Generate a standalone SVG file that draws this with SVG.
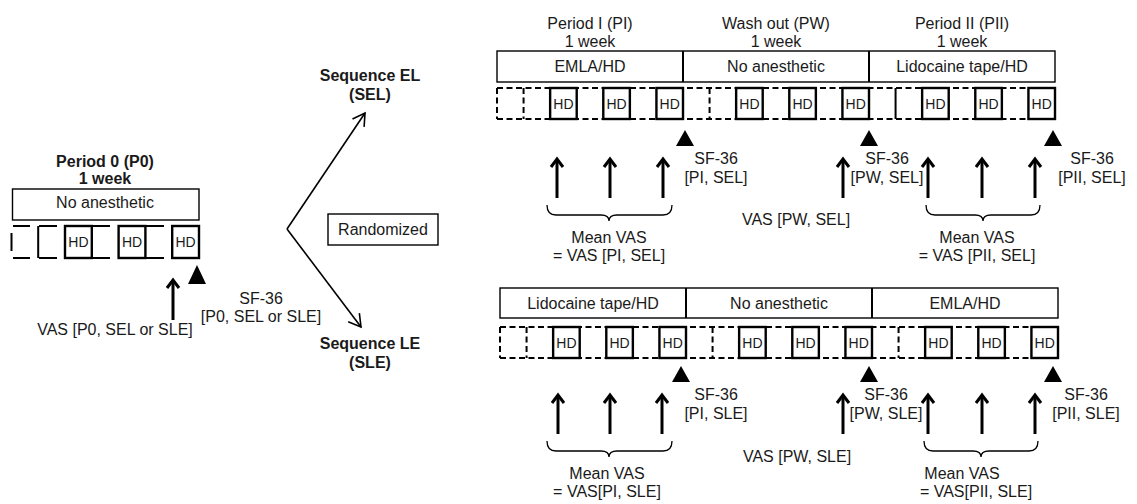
<svg xmlns="http://www.w3.org/2000/svg" width="1137" height="504" viewBox="0 0 1137 504">
<defs>
<style>
text{font-family:"Liberation Sans",Arial,sans-serif;font-size:16px;fill:#1a1a1a;text-anchor:middle}
.b{font-weight:bold}
.hd{font-size:14px}
.l{text-anchor:start}
.box{fill:#fff;stroke:#000;stroke-width:1.4}
.dash{fill:none;stroke:#000;stroke-width:2;stroke-dasharray:6,3.5}
.solid{fill:none;stroke:#000;stroke-width:2}
.hdbox{fill:#fff;stroke:#000;stroke-width:2.4}
.tri{fill:#000}
.brace{fill:none;stroke:#000;stroke-width:1.3}
.vas{stroke:#000;stroke-width:3;marker-end:url(#up)}
.br{stroke:#000;stroke-width:1.6;fill:none;marker-end:url(#open)}
</style>
<marker id="up" markerUnits="userSpaceOnUse" markerWidth="24" markerHeight="24" viewBox="-12 -12 24 24" refX="0" refY="0" orient="auto">
<path d="M-8,-6 L0,0 L-8,6" fill="none" stroke="#000" stroke-width="3"/>
</marker>
<marker id="open" markerUnits="userSpaceOnUse" markerWidth="30" markerHeight="30" viewBox="-15 -15 30 30" refX="0" refY="0" orient="auto">
<path d="M-12,-7 L0,0 L-12,7" fill="none" stroke="#000" stroke-width="1.6"/>
</marker>
</defs>
<rect width="1137" height="504" fill="#fff"/>

<!-- Period 0 -->
<g id="period0">
<text class="b" x="105" y="167">Period 0 (P0)</text>
<text class="b" x="105" y="184">1 week</text>
<rect class="box" x="12.5" y="189" width="186.5" height="31"/>
<text x="105" y="208">No anesthetic</text>
<path class="solid" d="M13,226 H30 M13,258 H30 M39,226 H57 M39,258 H57 M92,226 H110 M92,258 H110 M146,226 H164 M146,258 H164 M38.2,226 V258"/>
<path class="solid" d="M11.5,233 V251"/>
<rect class="hdbox" x="65" y="226" width="26.8" height="32"/>
<rect class="hdbox" x="118.6" y="226" width="26.8" height="32"/>
<rect class="hdbox" x="172.2" y="226" width="26.8" height="32"/>
<text class="hd" x="78.4" y="247">HD</text>
<text class="hd" x="132" y="247">HD</text>
<text class="hd" x="185.6" y="247">HD</text>
<polygon class="tri" points="188,284 197,265 206,284"/>
<text x="261" y="304">SF-36</text>
<text x="261" y="322">[P0, SEL or SLE]</text>
<text x="115" y="335">VAS [P0, SEL or SLE]</text>
</g>

<!-- Sequence labels & randomized -->
<g id="seq-el">
<text class="b" x="370" y="81">Sequence EL</text>
<text class="b" x="370" y="100">(SEL)</text>
</g>
<g id="seq-le">
<text class="b" x="370" y="349">Sequence LE</text>
<text class="b" x="370" y="368">(SLE)</text>
</g>
<g id="randomized">
<rect class="box" x="328" y="214" width="110" height="31"/>
<text x="383" y="235">Randomized</text>
</g>

<!-- SEL timeline -->
<g id="sel-timeline">
<text x="590" y="29">Period I (PI)</text>
<text x="590" y="47">1 week</text>
<text x="776" y="29">Wash out (PW)</text>
<text x="776" y="47">1 week</text>
<text x="962" y="29">Period II (PII)</text>
<text x="962" y="47">1 week</text>
<rect class="box" x="497" y="51" width="558" height="31"/>
<path class="solid" d="M683,51 V82 M869,51 V82" stroke-width="1.4"/>
<text x="590" y="72">EMLA/HD</text>
<text x="776" y="72">No anesthetic</text>
<text x="962" y="72">Lidocaine tape/HD</text>
<path class="dash" d="M497,88 H1055 M497,119 H1055 M497,88 V119 M523.57,88 V119 M709.57,88 V119"/>
<path class="solid" d="M895.57,88 V119"/>
<g>
<rect class="hdbox" x="550.14" y="88" width="26.57" height="31"/>
<rect class="hdbox" x="603.29" y="88" width="26.57" height="31"/>
<rect class="hdbox" x="656.43" y="88" width="26.57" height="31"/>
<rect class="hdbox" x="736.14" y="88" width="26.57" height="31"/>
<rect class="hdbox" x="789.29" y="88" width="26.57" height="31"/>
<rect class="hdbox" x="842.43" y="88" width="26.57" height="31"/>
<rect class="hdbox" x="922.14" y="88" width="26.57" height="31"/>
<rect class="hdbox" x="975.29" y="88" width="26.57" height="31"/>
<rect class="hdbox" x="1028.43" y="88" width="26.57" height="31"/>
</g>
<text class="hd" x="563.4" y="108.5">HD</text>
<text class="hd" x="616.6" y="108.5">HD</text>
<text class="hd" x="669.7" y="108.5">HD</text>
<text class="hd" x="749.4" y="108.5">HD</text>
<text class="hd" x="802.6" y="108.5">HD</text>
<text class="hd" x="855.7" y="108.5">HD</text>
<text class="hd" x="935.4" y="108.5">HD</text>
<text class="hd" x="988.6" y="108.5">HD</text>
<text class="hd" x="1041.7" y="108.5">HD</text>
<polygon class="tri" points="676,146 685,130 694,146"/>
<polygon class="tri" points="860,146 869,130 878,146"/>
<polygon class="tri" points="1044,146 1053,130 1062,146"/>
<text x="716" y="164">SF-36</text>
<text x="716" y="183">[PI, SEL]</text>
<text x="887" y="164">SF-36</text>
<text x="887" y="183">[PW, SEL]</text>
<text x="1092" y="164">SF-36</text>
<text x="1092" y="183">[PII, SEL]</text>
<path class="brace" d="M547,205 Q547,215 556,215 H601 Q609,215 609,221 Q609,215 617,215 H663 Q672,215 672,205"/>
<path class="brace" d="M926,205 Q926,215 935,215 H975 Q983,215 983,221 Q983,215 991,215 H1031 Q1040,215 1040,205"/>
<text x="796" y="225">VAS [PW, SEL]</text>
<text x="609" y="243">Mean VAS</text>
<text x="609" y="261">= VAS [PI, SEL]</text>
<text x="977" y="243">Mean VAS</text>
<text x="977" y="261">= VAS [PII, SEL]</text>
</g>

<!-- SLE timeline -->
<g id="sle-timeline">
<rect class="box" x="500" y="288" width="558" height="30"/>
<path class="solid" d="M686,288 V318 M872,288 V318" stroke-width="1.4"/>
<text x="593" y="309">Lidocaine tape/HD</text>
<text x="779" y="309">No anesthetic</text>
<text x="965" y="309">EMLA/HD</text>
<path class="dash" d="M500,327 H1058 M500,358 H1058 M500,327 V358 M526.57,327 V358 M712.57,327 V358 M898.57,327 V358"/>
<g>
<rect class="hdbox" x="553.14" y="327" width="26.57" height="31"/>
<rect class="hdbox" x="606.29" y="327" width="26.57" height="31"/>
<rect class="hdbox" x="659.43" y="327" width="26.57" height="31"/>
<rect class="hdbox" x="739.14" y="327" width="26.57" height="31"/>
<rect class="hdbox" x="792.29" y="327" width="26.57" height="31"/>
<rect class="hdbox" x="845.43" y="327" width="26.57" height="31"/>
<rect class="hdbox" x="925.14" y="327" width="26.57" height="31"/>
<rect class="hdbox" x="978.29" y="327" width="26.57" height="31"/>
<rect class="hdbox" x="1031.43" y="327" width="26.57" height="31"/>
</g>
<text class="hd" x="566.4" y="347.5">HD</text>
<text class="hd" x="619.6" y="347.5">HD</text>
<text class="hd" x="672.7" y="347.5">HD</text>
<text class="hd" x="752.4" y="347.5">HD</text>
<text class="hd" x="805.6" y="347.5">HD</text>
<text class="hd" x="858.7" y="347.5">HD</text>
<text class="hd" x="938.4" y="347.5">HD</text>
<text class="hd" x="991.6" y="347.5">HD</text>
<text class="hd" x="1044.7" y="347.5">HD</text>
<polygon class="tri" points="672,382 681,366 690,382"/>
<polygon class="tri" points="860,382 869,366 878,382"/>
<polygon class="tri" points="1044,382 1053,366 1062,382"/>
<text x="716" y="400">SF-36</text>
<text x="716" y="419">[PI, SLE]</text>
<text x="886" y="400">SF-36</text>
<text x="886" y="419">[PW, SLE]</text>
<text x="1086" y="400">SF-36</text>
<text x="1086" y="419">[PII, SLE]</text>
<path class="brace" d="M547,441 Q547,451 556,451 H601 Q609,451 609,457 Q609,451 617,451 H663 Q672,451 672,441"/>
<path class="brace" d="M924,441 Q924,451 933,451 H973 Q981,451 981,457 Q981,451 989,451 H1029 Q1038,451 1038,441"/>
<text x="797" y="462">VAS [PW, SLE]</text>
<text x="607" y="479">Mean VAS</text>
<text x="607" y="497">= VAS[PI, SLE]</text>
<text x="962" y="479">Mean VAS</text>
<text x="976" y="497">= VAS[PII, SLE]</text>
</g>

<!-- connectors -->
<g id="connectors">
<line class="br" x1="287" y1="229" x2="365" y2="113"/>
<line class="br" x1="287" y1="229" x2="361" y2="327"/>
<line class="vas" x1="173" y1="320" x2="173" y2="280"/>
<line class="vas" x1="557" y1="198" x2="557" y2="159"/>
<line class="vas" x1="610" y1="198" x2="610" y2="159"/>
<line class="vas" x1="663" y1="198" x2="663" y2="159"/>
<line class="vas" x1="843" y1="198" x2="843" y2="159"/>
<line class="vas" x1="928" y1="198" x2="928" y2="159"/>
<line class="vas" x1="982" y1="198" x2="982" y2="159"/>
<line class="vas" x1="1035" y1="198" x2="1035" y2="159"/>
<line class="vas" x1="558" y1="434" x2="558" y2="395"/>
<line class="vas" x1="610" y1="434" x2="610" y2="395"/>
<line class="vas" x1="662" y1="434" x2="662" y2="395"/>
<line class="vas" x1="843" y1="434" x2="843" y2="395"/>
<line class="vas" x1="928" y1="434" x2="928" y2="395"/>
<line class="vas" x1="982" y1="434" x2="982" y2="395"/>
<line class="vas" x1="1035" y1="434" x2="1035" y2="395"/>
</g>
</svg>
